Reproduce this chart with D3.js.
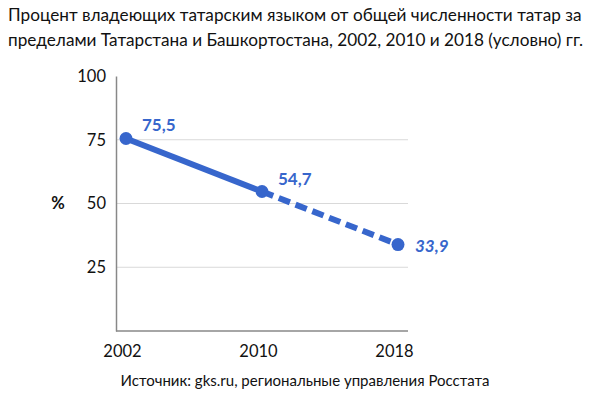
<!DOCTYPE html>
<html>
<head>
<meta charset="utf-8">
<script src="https://cdn.jsdelivr.net/npm/d3@7"></script>
<style>
  body { margin: 0; background: #fff; }
  svg { font-family: Lato, "Open Sans", sans-serif; }
</style>
</head>
<body>
<svg id="chart" width="610" height="396"></svg>
<script>
// data
var years = [2002, 2010, 2018];
var values = [75.5, 54.7, 33.9];
var valueLabels = ["75,5", "54,7", "33,9"];
var yTicks = [25, 50, 75, 100];
var titleLines = [
  "Процент владеющих татарским языком от общей численности татар за",
  "пределами Татарстана и Башкортостана, 2002, 2010 и 2018 (условно) гг."
];
var sourceText = "Источник: gks.ru, региональные управления Росстата";

var svg = d3.select("#chart");
var blue = "#3766cc";

var x = d3.scalePoint().domain(years).range([126, 398]);
var y = d3.scaleLinear().domain([0, 100]).range([331, 76]);

// title
svg.selectAll("text.title")
  .data(titleLines)
  .enter().append("text")
  .attr("class", "title")
  .attr("x", 8)
  .attr("y", function(d, i) { return 21 + i * 25; })
  .attr("font-size", 17.2)
  .attr("fill", "#111")
  .text(function(d) { return d; });

// gridlines
svg.append("g").selectAll("line")
  .data(yTicks.filter(function(t) { return t < 100; }))
  .enter().append("line")
  .attr("x1", 116).attr("x2", 408)
  .attr("y1", function(d) { return y(d); })
  .attr("y2", function(d) { return y(d); })
  .attr("stroke", "#d9d9d9").attr("stroke-width", 1);

// y axis
var yAxis = svg.append("g")
  .attr("transform", "translate(116,0)")
  .call(d3.axisLeft(y).tickValues(yTicks).tickSize(0).tickPadding(10));
yAxis.select(".domain").attr("stroke", "#888").attr("stroke-width", 1.5);
yAxis.selectAll("text").attr("font-size", 16.5).attr("fill", "#111")
  .attr("font-family", "Lato, 'Open Sans', sans-serif");

// x axis
var xAxis = svg.append("g")
  .attr("transform", "translate(0,331)")
  .call(d3.axisBottom(x).tickSize(0).tickPadding(14).tickFormat(d3.format("d")));
xAxis.select(".domain").attr("d", "M116,0H408").attr("stroke", "#888").attr("stroke-width", 1.5);
xAxis.selectAll("text").attr("font-size", 16.5).attr("fill", "#111")
  .attr("dx", -4)
  .attr("font-family", "Lato, 'Open Sans', sans-serif");

// "%" label
svg.append("text")
  .attr("x", 58).attr("y", y(50))
  .attr("dy", "0.35em")
  .attr("text-anchor", "middle")
  .attr("font-size", 16.5).attr("font-weight", "bold").attr("fill", "#111")
  .text("%");

// lines: solid for first segment, dashed for the estimate
var line = d3.line()
  .x(function(d) { return x(d[0]); })
  .y(function(d) { return y(d[1]); });
var pts = years.map(function(yr, i) { return [yr, values[i]]; });

svg.append("path")
  .attr("d", line(pts.slice(0, 2)))
  .attr("fill", "none").attr("stroke", blue).attr("stroke-width", 6);
svg.append("path")
  .attr("d", line(pts.slice(1, 3)))
  .attr("fill", "none").attr("stroke", blue).attr("stroke-width", 6)
  .attr("stroke-dasharray", "12,6");

svg.selectAll("circle")
  .data(pts)
  .enter().append("circle")
  .attr("cx", function(d) { return x(d[0]); })
  .attr("cy", function(d) { return y(d[1]); })
  .attr("r", 6.5)
  .attr("fill", blue);

// value labels
var labelOffsets = [[16, -13], [16, -12], [17, 1]];
svg.selectAll("text.val")
  .data(pts)
  .enter().append("text")
  .attr("class", "val")
  .attr("x", function(d, i) { return x(d[0]) + labelOffsets[i][0]; })
  .attr("y", function(d, i) { return y(d[1]) + labelOffsets[i][1]; })
  .attr("dy", "0.35em")
  .attr("font-size", 17).attr("font-weight", "bold")
  .attr("font-style", function(d, i) { return i === 2 ? "italic" : "normal"; })
  .attr("fill", blue)
  .text(function(d, i) { return valueLabels[i]; });

// source
svg.append("text")
  .attr("x", 305).attr("y", 386)
  .attr("text-anchor", "middle")
  .attr("font-size", 15).attr("fill", "#111")
  .text(sourceText);
</script>
</body>
</html>
